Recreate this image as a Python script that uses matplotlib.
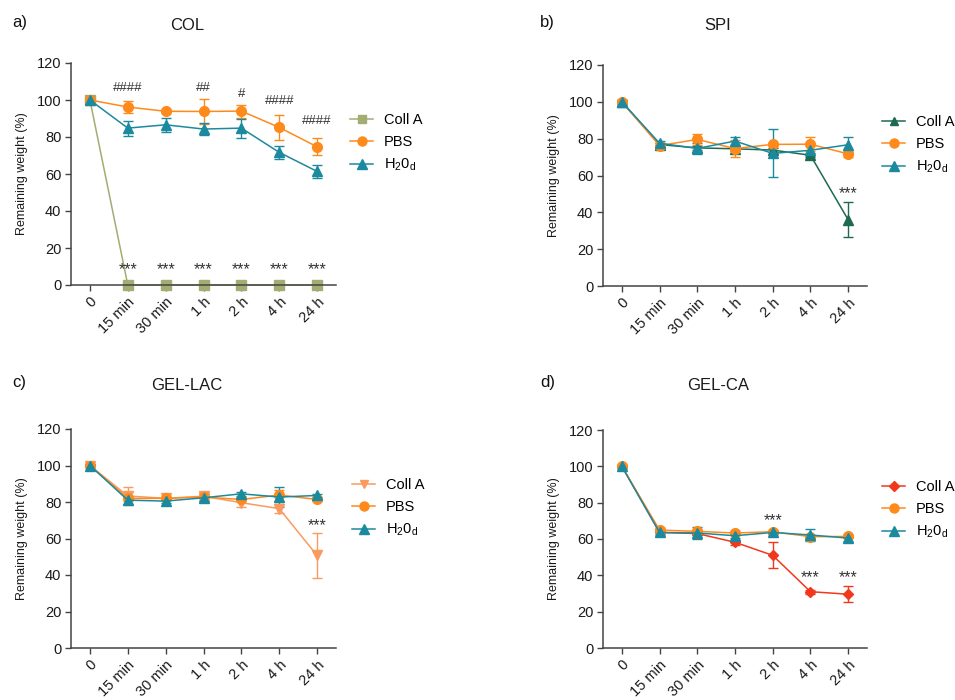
import numpy as np
import matplotlib
matplotlib.use("Agg")
import matplotlib.pyplot as plt
from matplotlib.lines import Line2D

plt.rcParams['font.family'] = ['Liberation Sans', 'DejaVu Sans']
plt.rcParams['mathtext.fontset'] = 'custom'
plt.rcParams['mathtext.rm'] = 'Liberation Sans'
plt.rcParams['mathtext.it'] = 'Liberation Sans:italic'

times = ["0", "15 min", "30 min", "1 h", "2 h", "4 h", "24 h"]
labels = ["Coll A", "PBS", r"H$_\mathregular{2}$0$_\mathregular{d}$"]

# panel a) COL
col_coll = [100, 0, 0, 0, 0, 0, 0]
col_coll_err = [0, 0, 0, 0, 0, 0, 0]
col_pbs = [100, 96.2, 93.9, 93.8, 94.0, 85.2, 74.7]
col_pbs_err = [1, 3.2, 1, 7, 3.5, 6.8, 4.6]
col_h2o = [100, 84.8, 86.6, 84.3, 84.8, 71.7, 61.4]
col_h2o_err = [1, 4, 3.8, 3.2, 5.2, 3.6, 3.5]

# panel b) SPI
spi_coll = [100, 76.8, 75.0, 74.5, 73.8, 71.0, 36.0]
spi_coll_err = [1, 1, 1, 1, 1, 1, 9.6]
spi_pbs = [100, 76.2, 79.6, 74.6, 76.9, 77.0, 71.7]
spi_pbs_err = [1, 1.5, 3, 4.5, 1, 3.8, 1.5]
spi_h2o = [100, 77.5, 74.7, 78.7, 72.0, 73.7, 76.7]
spi_h2o_err = [1, 1.5, 3, 2, 13, 3, 4.2]

# panel c) GEL-LAC
lac_coll = [100, 83.3, 82.0, 83.2, 79.6, 76.4, 50.7]
lac_coll_err = [1, 5, 1, 2.2, 2.6, 2.6, 12.5]
lac_pbs = [100, 82.0, 82.0, 82.7, 81.4, 83.8, 81.4]
lac_pbs_err = [1, 1.5, 1, 2, 1, 3, 1]
lac_h2o = [100, 81.0, 80.5, 82.3, 84.5, 82.7, 83.6]
lac_h2o_err = [1, 2, 1, 2, 1, 5.6, 1]

# panel d) GEL-CA
ca_coll = [100, 63.6, 63.0, 58.2, 51.0, 31.0, 29.6]
ca_coll_err = [1, 1.2, 1, 1.5, 7.1, 1, 4.3]
ca_pbs = [100, 64.9, 64.2, 63.3, 64.0, 61.3, 61.4]
ca_pbs_err = [1, 1, 1, 1, 1, 1, 1]
ca_h2o = [100, 63.6, 63.3, 61.8, 63.6, 62.2, 60.5]
ca_h2o_err = [1, 1, 3.2, 1, 1, 3.5, 1.5]

# annotations: (time index, y, text)
col_notes = [(1, 106.5, "####"), (3, 106.5, "##"), (4, 103.5, "#"),
             (5, 99.5, "####"), (6, 88.5, "####"),
             (1, 8.5, "***"), (2, 8.5, "***"), (3, 8.5, "***"),
             (4, 8.5, "***"), (5, 8.5, "***"), (6, 8.5, "***")]
spi_notes = [(6, 50, "***")]
lac_notes = [(6, 67, "***")]
ca_notes = [(4, 70, "***"), (5, 38.5, "***"), (6, 38.5, "***")]

ORANGE = "#ff8a1c"
TEAL = "#1b8a9f"

panels = [
    dict(rect=[71, 63, 336, 285], title="COL", tag="a)", tag_xy=(12, 22), title_xy=(187, 25),
         coll=(col_coll, col_coll_err, "#a2ad72", "s"), pbs=(col_pbs, col_pbs_err),
         h2o=(col_h2o, col_h2o_err), notes=col_notes, leg=(350, 113)),
    dict(rect=[603, 65, 867, 286], title="SPI", tag="b)", tag_xy=(540, 22), title_xy=(718, 25),
         coll=(spi_coll, spi_coll_err, "#1d6a4f", "^"), pbs=(spi_pbs, spi_pbs_err),
         h2o=(spi_h2o, spi_h2o_err), notes=spi_notes, leg=(882, 115)),
    dict(rect=[71, 429, 336, 648], title="GEL-LAC", tag="c)", tag_xy=(12, 383), title_xy=(187, 386),
         coll=(lac_coll, lac_coll_err, "#fb9a60", "v"), pbs=(lac_pbs, lac_pbs_err),
         h2o=(lac_h2o, lac_h2o_err), notes=lac_notes, leg=(352, 478)),
    dict(rect=[603, 430, 867, 648], title="GEL-CA", tag="d)", tag_xy=(540, 383), title_xy=(718, 386),
         coll=(ca_coll, ca_coll_err, "#f2381c", "D"), pbs=(ca_pbs, ca_pbs_err),
         h2o=(ca_h2o, ca_h2o_err), notes=ca_notes, leg=(882, 480)),
]

W, H = 955, 700
fig = plt.figure(figsize=(W / 100, H / 100), dpi=100)
x = np.arange(len(times))

for p in panels:
    l, t, r, b = p["rect"]
    ax = fig.add_axes([l / W, 1 - b / H, (r - l) / W, (b - t) / H])
    cvals, cerr, ccol, cmark = p["coll"]
    series = [
        (cvals, cerr, ccol, cmark, 6.5 if cmark != "D" else 5.5),
        (p["pbs"][0], p["pbs"][1], ORANGE, "o", 7),
        (p["h2o"][0], p["h2o"][1], TEAL, "^", 7),
    ]
    handles = []
    for (vals, err, colr, mk, ms), lab in zip(series, labels):
        eb = ax.errorbar(x, vals, yerr=err, color=colr, marker=mk, markersize=ms,
                         linewidth=1.1, elinewidth=1.0, capsize=3.5, capthick=1.0)
        eb[0].set_clip_on(False)
        handles.append(Line2D([], [], color=colr, marker=mk, markersize=ms - 0.5,
                              linewidth=1.1, label=lab))
    for i, yv, txt in p["notes"]:
        fs = 11.5 if txt.startswith("*") else 9.5
        ax.text(x[i], yv, txt, ha="center", va="center", fontsize=fs, color="#333333")

    ax.set_xlim(-0.5, 6.5)
    ax.set_ylim(0, 120)
    ax.set_yticks(range(0, 121, 20))
    ax.set_xticks(x)
    ax.set_xticklabels(times, rotation=45, ha="right", rotation_mode="anchor")
    ax.tick_params(colors="#444444", labelcolor="#1a1a1a", labelsize=10.5, length=4.5,
                   width=1, pad=2.5)
    for s in ["top", "right"]:
        ax.spines[s].set_visible(False)
    for s in ["left", "bottom"]:
        ax.spines[s].set_color("#444444")
        ax.spines[s].set_linewidth(1.1)
    ax.set_ylabel("Remaining weight (%)", fontsize=9, color="#1a1a1a", labelpad=6)

    lx, ly = p["leg"]
    ax.legend(handles=handles, loc="upper left", bbox_to_anchor=(lx / W, 1 - ly / H),
              bbox_transform=fig.transFigure, frameon=False, fontsize=10.5,
              handlelength=1.6, handletextpad=0.7, labelspacing=0.55,
              borderpad=0, borderaxespad=0)

    fig.text(p["title_xy"][0] / W, 1 - p["title_xy"][1] / H, p["title"], ha="center",
             va="center", fontsize=12, color="#1a1a1a")
    fig.text(p["tag_xy"][0] / W, 1 - p["tag_xy"][1] / H, p["tag"], ha="left", va="center",
             fontsize=12, color="#111111")

fig.savefig("out.png", dpi=100)
